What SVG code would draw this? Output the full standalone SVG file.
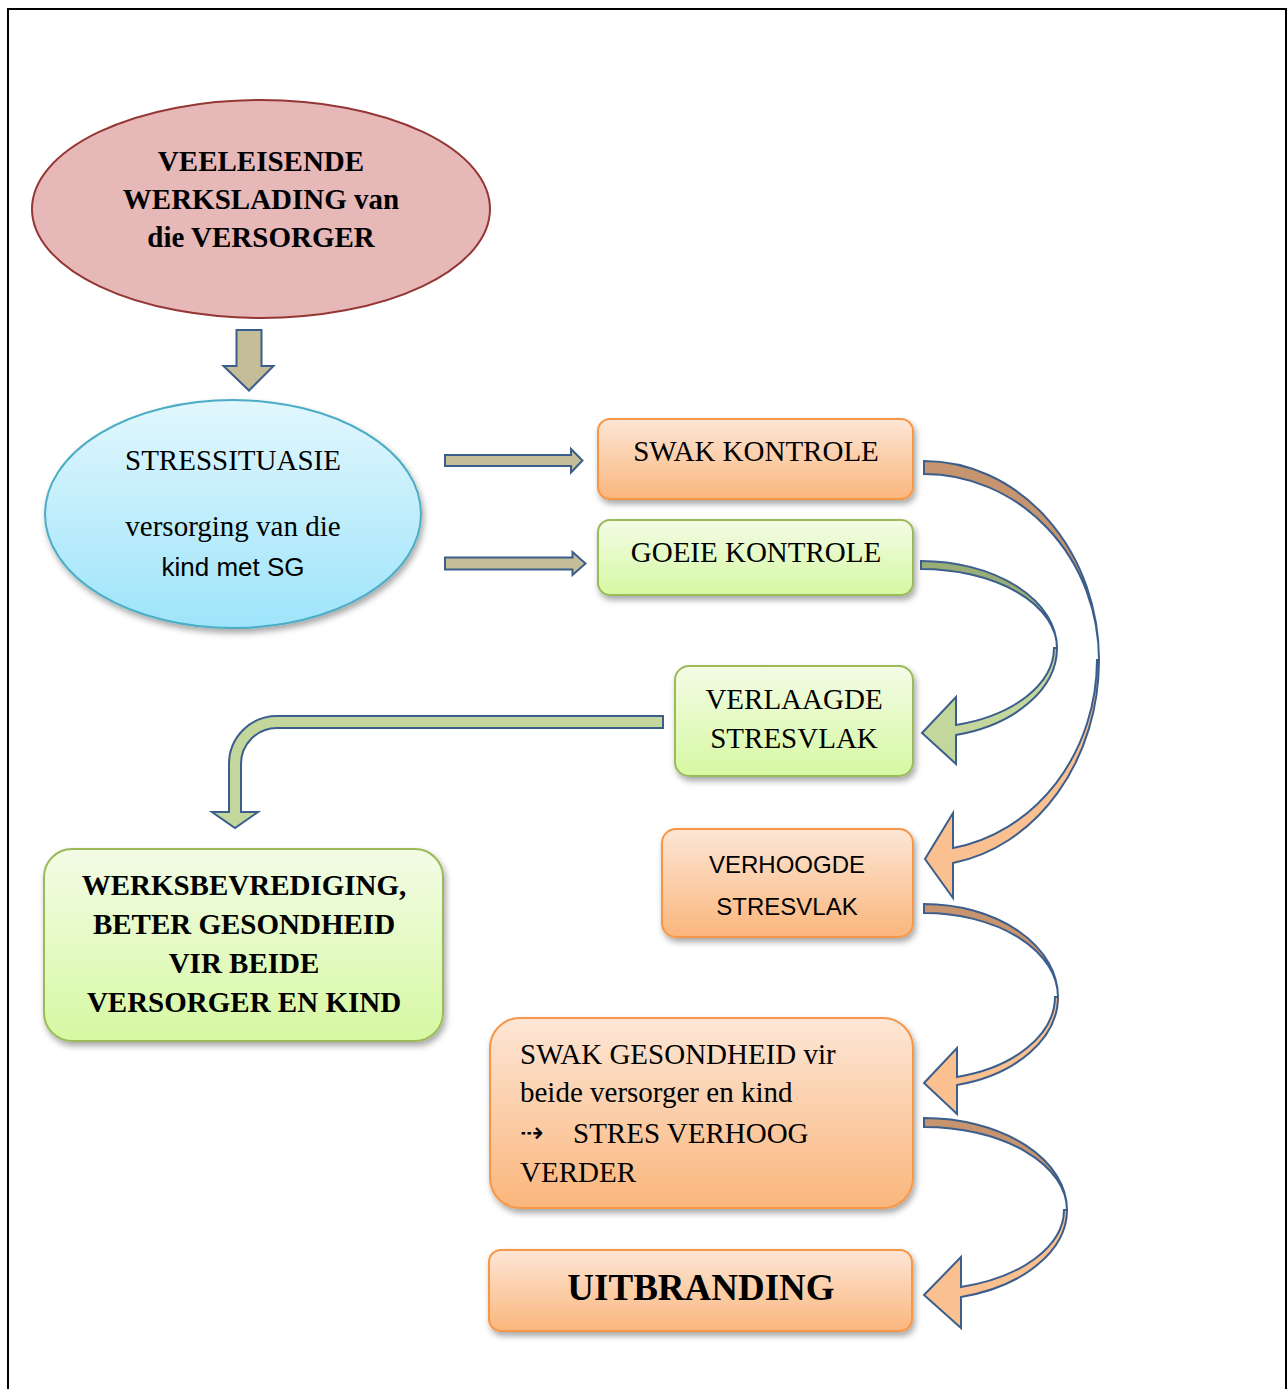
<svg xmlns="http://www.w3.org/2000/svg" width="1287" height="1389" viewBox="0 0 1287 1389">
<defs>
<linearGradient id="gOr" x1="0" y1="0" x2="0" y2="1"><stop offset="0" stop-color="#FDE6D6"/><stop offset="1" stop-color="#FAB67C"/></linearGradient>
<linearGradient id="gGr" x1="0" y1="0" x2="0" y2="1"><stop offset="0" stop-color="#F3FCE6"/><stop offset="1" stop-color="#D6F8A2"/></linearGradient>
<linearGradient id="gBl" x1="0" y1="0" x2="0" y2="1"><stop offset="0" stop-color="#E2F7FD"/><stop offset="1" stop-color="#9EE4FA"/></linearGradient>
<filter id="sh" x="-10%" y="-10%" width="125%" height="130%"><feDropShadow dx="2" dy="4" stdDeviation="3" flood-color="#000" flood-opacity="0.35"/></filter>
<style>
.t{font-family:"Liberation Serif","Times New Roman",serif;font-size:29px;fill:#000}
.b{font-weight:bold}
.s{font-family:"Liberation Sans",Arial,sans-serif;fill:#000}
.or{fill:url(#gOr);stroke:#F79646;stroke-width:2}
.gr{fill:url(#gGr);stroke:#9BBB59;stroke-width:2}
.ar{stroke:#3B5E8C;stroke-width:2;stroke-linejoin:miter}
.tan{fill:#C4BD97}
.lg{fill:#C3D69B}
.dg{fill:#98AD78}
.lo{fill:#FAC090}
.do{fill:#C69570}
</style>
</defs>
<rect width="1287" height="1389" fill="#fff"/>
<path d="M8,1389 V9 H1286 V1389" fill="none" stroke="#000" stroke-width="2"/>

<g id="connectors">
<path class="ar tan" d="M236.5,330 H261.5 V366 H273.5 L249,390.5 L223.5,366 H236.5 Z"/>
<path class="ar tan" d="M445,455 H571 V449 L582.5,460.5 L571,472.5 V466 H445 Z"/>
<path class="ar tan" d="M445,557.5 H572.5 V552 L585.5,563.5 L572.5,575 V569.5 H445 Z"/>
<path class="ar lg" d="M663,716 H277 A48,48 0 0 0 229,764 V812 H212 L235,828 L258,812 H241 V764 A36,36 0 0 1 277,728 H663 Z"/>
<path class="ar do" d="M924,461 A175,199 0 0 1 1099,660 A175,186 0 0 0 924,474 Z"/>
<path class="ar lo" d="M1099,660 A175,206 0 0 1 953,863 L953,898 L925,859 L953,813 L953,848 A173,191 0 0 0 1097,660 Z"/>
<path class="ar dg" d="M921,561 A136,87 0 0 1 1057,648 A136,79 0 0 0 921,569 Z"/>
<path class="ar lg" d="M1057,648 A136,90 0 0 1 956,735 L956,764 L922,733 L956,697 L956,725 A133,80 0 0 0 1054,648 Z"/>
<path class="ar do" d="M924,904 A134,93 0 0 1 1058,997 A134,84 0 0 0 924,913 Z"/>
<path class="ar lo" d="M1058,997 A134,91 0 0 1 957,1085 L957,1114 L924,1083 L957,1048 L957,1077 A131,83 0 0 0 1055,997 Z"/>
<path class="ar do" d="M924,1118 A143,92 0 0 1 1067,1210 A143,83 0 0 0 924,1127 Z"/>
<path class="ar lo" d="M1067,1210 A143,90 0 0 1 961,1297 L961,1328 L924,1295 L961,1257 L961,1287 A140,80 0 0 0 1064,1210 Z"/>
</g>

<g id="n-veeleisende">
<ellipse cx="261" cy="209" rx="229" ry="109" fill="#E6B8B7" stroke="#943634" stroke-width="2"/>
<text class="t b" text-anchor="middle"><tspan x="261" y="171">VEELEISENDE</tspan><tspan x="261" y="209">WERKSLADING van</tspan><tspan x="261" y="247">die VERSORGER</tspan></text>
</g>

<g id="n-stressituasie">
<ellipse cx="233" cy="514" rx="188" ry="114" fill="url(#gBl)" stroke="#4BACC6" stroke-width="2" filter="url(#sh)"/>
<text class="t" text-anchor="middle" x="233" y="470">STRESSITUASIE</text>
<text class="t" text-anchor="middle" x="233" y="536">versorging van die</text>
<text class="s" style="font-size:26px" text-anchor="middle" x="233" y="576">kind met SG</text>
</g>

<g id="n-swak-kontrole">
<rect class="or" x="598" y="419" width="315" height="80" rx="12" filter="url(#sh)"/>
<text class="t" text-anchor="middle" x="756" y="461">SWAK KONTROLE</text>
</g>

<g id="n-goeie-kontrole">
<rect class="gr" x="598" y="520" width="315" height="75" rx="12" filter="url(#sh)"/>
<text class="t" text-anchor="middle" x="756" y="562">GOEIE KONTROLE</text>
</g>

<g id="n-verlaagde">
<rect class="gr" x="675" y="666" width="238" height="110" rx="14" filter="url(#sh)"/>
<text class="t" text-anchor="middle"><tspan x="794" y="709">VERLAAGDE</tspan><tspan x="794" y="748">STRESVLAK</tspan></text>
</g>

<g id="n-verhoogde">
<rect class="or" x="662" y="829" width="251" height="108" rx="14" filter="url(#sh)"/>
<text class="s" style="font-size:24px" text-anchor="middle"><tspan x="787" y="873">VERHOOGDE</tspan><tspan x="787" y="915">STRESVLAK</tspan></text>
</g>

<g id="n-werksbevrediging">
<rect class="gr" x="44" y="849" width="399" height="192" rx="28" filter="url(#sh)"/>
<text class="t b" text-anchor="middle"><tspan x="244" y="895">WERKSBEVREDIGING,</tspan><tspan x="244" y="934">BETER GESONDHEID</tspan><tspan x="244" y="973">VIR BEIDE</tspan><tspan x="244" y="1012">VERSORGER EN KIND</tspan></text>
</g>

<g id="n-swak-gesondheid">
<rect class="or" x="490" y="1018" width="423" height="190" rx="30" filter="url(#sh)"/>
<text class="t"><tspan x="520" y="1064">SWAK GESONDHEID vir</tspan><tspan x="520" y="1102">beide versorger en kind</tspan><tspan x="520" y="1142" style="font-family:'DejaVu Sans',sans-serif;font-size:28px">⇢</tspan><tspan x="573" y="1143">STRES VERHOOG</tspan><tspan x="520" y="1182">VERDER</tspan></text>
</g>

<g id="n-uitbranding">
<rect class="or" x="489" y="1250" width="423" height="81" rx="12" filter="url(#sh)"/>
<text class="t b" style="font-size:37px" text-anchor="middle" x="701" y="1300">UITBRANDING</text>
</g>
</svg>
